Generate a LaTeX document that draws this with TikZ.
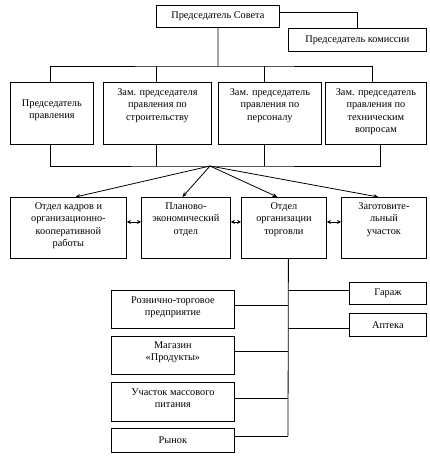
\documentclass[tikz,border=0pt]{standalone}
\usepackage{fontspec}
\setmainfont{Liberation Serif}
\usetikzlibrary{arrows.meta}
\tikzset{box/.style={draw, line width=0.8pt, align=center, anchor=north west,
    inner xsep=2pt, inner ysep=0pt, font=\fontsize{10.3}{12.5}\selectfont},
  top/.style 2 args={text height=#1, text depth=#2},
  link/.style={line width=0.8pt},
  arr/.style={line width=0.8pt, -{Stealth[length=5pt,width=4pt]}},
  darr/.style={line width=0.8pt, {Stealth[length=4pt,width=4pt]}-{Stealth[length=4pt,width=4pt]}}}

\begin{document}
\begin{tikzpicture}[x=1pt,y=-1pt]
  \useasboundingbox (0,0) rectangle (430,458);
  % council and commission
  \node[box, minimum width=123pt, minimum height=22pt] (sovet) at (156,5) {Председатель Совета};
  \node[box, minimum width=138pt, minimum height=23pt] (komis) at (288,28) {Председатель комиссии};
  % board
  \node[box, top={36.5pt}{25.5pt}, minimum width=83pt] (pred) at (10,82) {Председатель\\правления};
  \node[box, top={38pt}{24pt}, minimum width=108pt] (zam1) at (103,82) {Зам. председателя\\правления по\\строительству};
  \node[box, top={38pt}{24pt}, minimum width=103pt] (zam2) at (218,82) {Зам. председатель\\правления по\\персоналу};
  \node[box, top={50.5pt}{11.5pt}, minimum width=101pt] (zam3) at (325,82) {Зам. председатель\\правления по\\техническим\\вопросам};
  % departments
  \node[box, top={49.5pt}{11.5pt}, minimum width=116pt] (kadr) at (10,197) {Отдел кадров и\\организационно-\\кооперативной\\работы};
  \node[box, top={37pt}{24pt}, minimum width=89pt] (plan) at (141,197) {Планово-\\экономический\\отдел};
  \node[box, top={37pt}{24pt}, minimum width=85pt] (torg) at (241,197) {Отдел\\организации\\торговли};
  \node[box, top={37pt}{24pt}, minimum width=85pt] (zagot) at (341,197) {Заготовите-\\льный\\участок};
  % units
  \node[box, top={25.5pt}{12.5pt}, minimum width=123pt] (roznica) at (111,290) {Рознично-торговое\\предприятие};
  \node[box, top={24.5pt}{13.5pt}, minimum width=123pt] (magazin) at (111,336) {Магазин\\«Продукты»};
  \node[box, top={25.5pt}{13.5pt}, minimum width=123pt] (pitanie) at (111,382) {Участок массового\\питания};
  \node[box, minimum width=123pt, minimum height=24pt] (rynok) at (111,428) {Рынок};
  \node[box, minimum width=77pt, minimum height=22pt] (garazh) at (349,282) {Гараж};
  \node[box, minimum width=77pt, minimum height=23pt] (apteka) at (349,313) {Аптека};

  \coordinate (topbus) at (218,66);
  \coordinate (lowbus) at (210,166);
  \coordinate (trunk) at (288,436);

  \draw[link] ([yshift=4pt]sovet.east) -| (komis.north);
  \draw[link] (sovet.south) -- (topbus);
  \draw[link] ([xshift=-1.5pt]pred.north) |- (topbus) -| ([xshift=-3.5pt]zam3.north);
  \draw[link] ([xshift=-1pt]zam1.north) -- ([xshift=-1pt]zam1.north |- topbus);
  \draw[link] ([xshift=-5.5pt]zam2.north) -- ([xshift=-5.5pt]zam2.north |- topbus);
  \draw[link] ([xshift=-1.5pt]pred.south) |- (lowbus) -| ([xshift=4.5pt]zam3.south);
  \draw[link] ([xshift=-1pt]zam1.south) -- ([xshift=-1pt]zam1.south |- lowbus);
  \draw[link] ([xshift=-5.5pt]zam2.south) -- ([xshift=-5.5pt]zam2.south |- lowbus);

  \draw[arr] (lowbus) -- ([xshift=7pt]kadr.north);
  \draw[arr] (lowbus) -- ([xshift=-3.5pt]plan.north);
  \draw[arr] (lowbus) -- ([xshift=-6.5pt]torg.north);
  \draw[arr] (lowbus) -- ([xshift=-5.5pt]zagot.north);
  \draw[darr] ([yshift=6pt]kadr.east) -- ([yshift=6pt]plan.west);
  \draw[darr] ([yshift=6pt]plan.east) -- ([yshift=6pt]torg.west);
  \draw[darr] ([yshift=6pt]torg.east) -- ([yshift=6pt]zagot.west);

  \draw[link] ([xshift=4.5pt]torg.south) -- (trunk);
  \draw[link] ([yshift=4pt]roznica.east) -- ([yshift=4pt]roznica.east -| trunk);
  \draw[link] ([yshift=4pt]magazin.east) -- ([yshift=4pt]magazin.east -| trunk);
  \draw[link] ([yshift=4pt]pitanie.east) -- ([yshift=4pt]pitanie.east -| trunk);
  \draw[link] (rynok.east |- trunk) -- (trunk);
  \draw[link] ([yshift=3pt]garazh.west) -- ([yshift=3pt]garazh.west -| trunk);
  \draw[link] ([yshift=-3.5pt]apteka.west) -- ([yshift=-3.5pt]apteka.west -| trunk);
\end{tikzpicture}
\end{document}
